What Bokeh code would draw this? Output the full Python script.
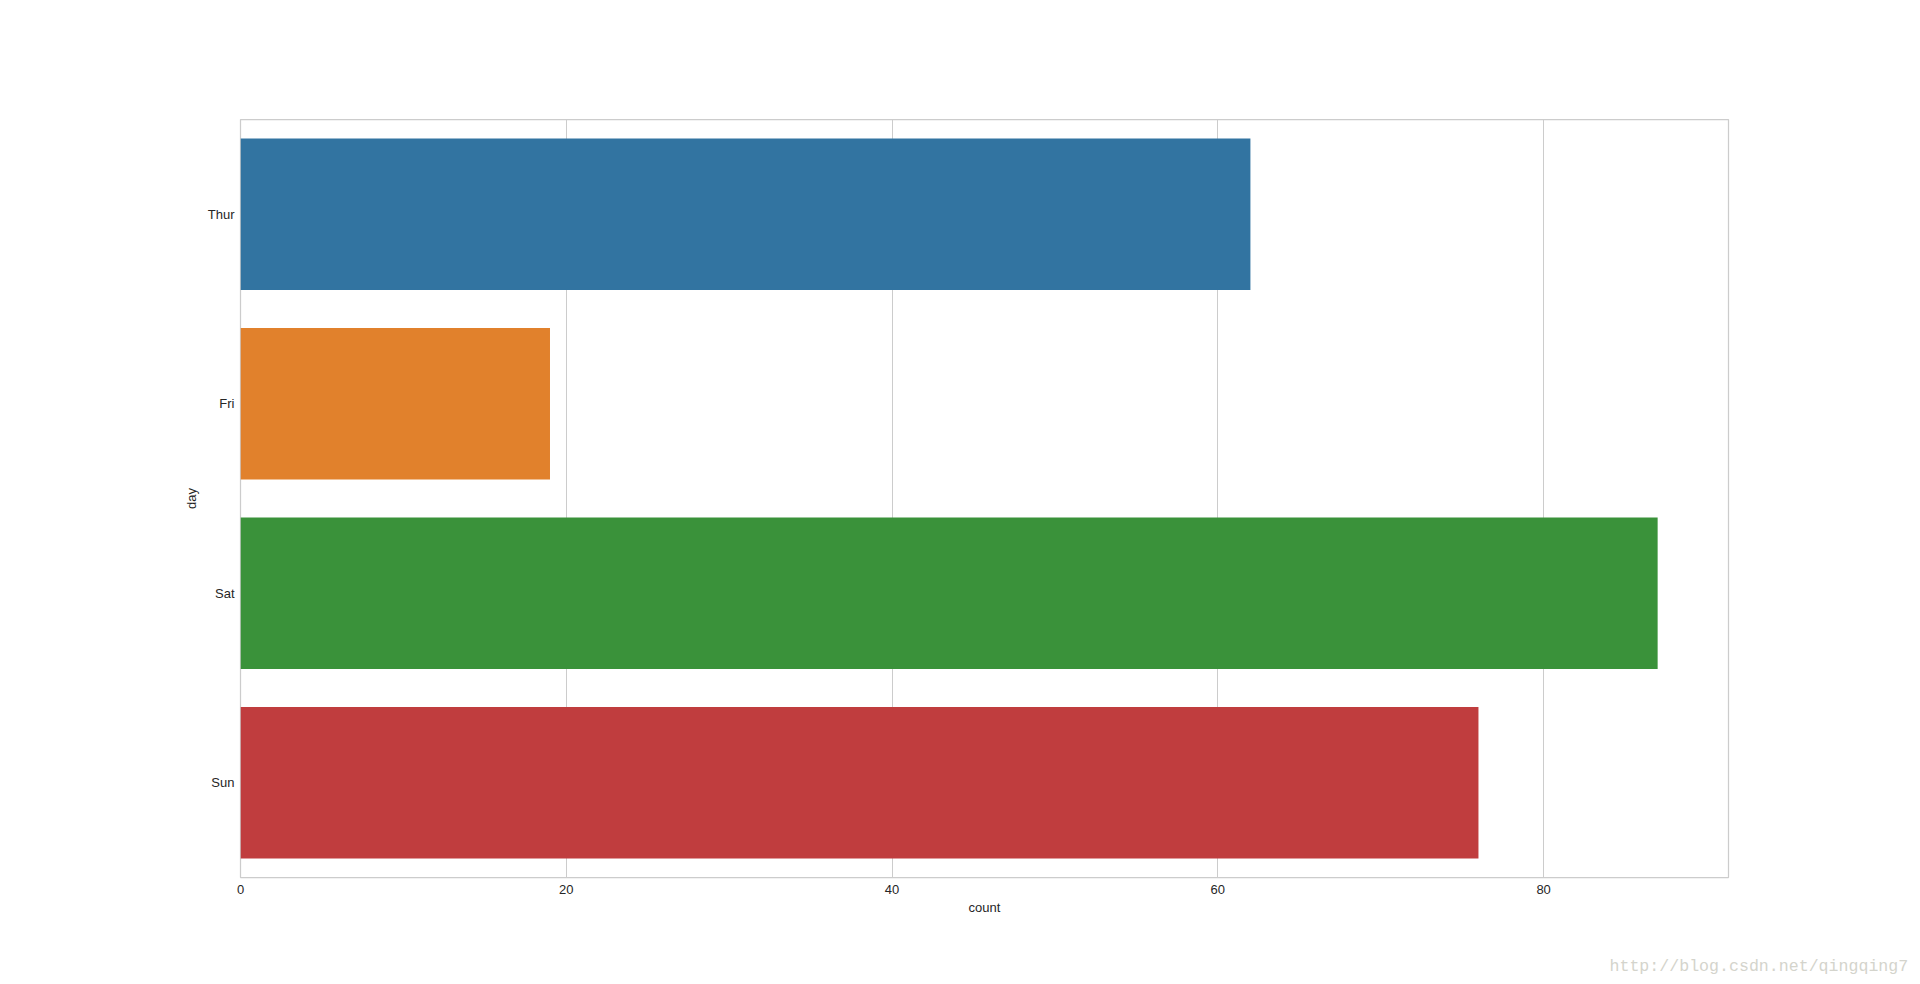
from bokeh.plotting import figure
from bokeh.models import FactorRange, Range1d, FixedTicker, Title, ColumnDataSource
from bokeh.embed import file_html
from bokeh.resources import INLINE

days = ["Thur", "Fri", "Sat", "Sun"]
counts = [62, 19, 87, 76]
colors = ["#3274a1", "#e1812c", "#3a923a", "#c03d3e"]
x_ticks = [0, 20, 40, 60, 80]
watermark = "http://blog.csdn.net/qingqing7"

src = ColumnDataSource(dict(day=days, count=counts, color=colors))

p = figure(width=1916, height=980, output_backend="svg", toolbar_location=None,
           y_range=FactorRange(factors=days[::-1], range_padding=0),
           x_range=Range1d(0, max(counts) * 1.05),
           min_border_left=240, min_border_right=188,
           min_border_top=119, min_border_bottom=103)

p.hbar(y="day", right="count", left=0, height=0.8, fill_color="color",
       line_color=None, source=src)

font = "Liberation Sans"
for ax in (p.xaxis[0], p.yaxis[0]):
    ax.axis_line_color = None
    ax.major_tick_line_color = None
    ax.minor_tick_line_color = None
    ax.major_label_text_font = font
    ax.major_label_text_font_size = "13px"
    ax.major_label_text_color = "#262626"
    ax.axis_label_text_font = font
    ax.axis_label_text_font_size = "13px"
    ax.axis_label_text_font_style = "normal"
    ax.axis_label_text_color = "#262626"

p.xaxis.ticker = FixedTicker(ticks=x_ticks)
p.xaxis.axis_label = "count"
p.yaxis.axis_label = "day"
p.xaxis.major_label_standoff = 1
p.xaxis.axis_label_standoff = 3
p.yaxis.major_label_standoff = 0
p.yaxis.axis_label_standoff = 6

p.xgrid.grid_line_color = "#cccccc"
p.xgrid.grid_line_width = 1
p.ygrid.grid_line_color = None
p.outline_line_color = "#cccccc"
p.outline_line_width = 1.25
p.background_fill_color = "white"
p.border_fill_color = "white"

# empty spacer panel between the x axis and the watermark
spacer = Title(text=" ", standoff=34, text_font_size="1px",
               text_font_style="normal", text_color="white")
p.add_layout(spacer, "below")

wm = Title(text=watermark, align="left", offset=1369, standoff=0,
           text_font="Liberation Mono", text_font_size="16.6px",
           text_font_style="normal", text_color="#d4d4cc")
p.add_layout(wm, "below")

open("out.html", "w").write(file_html(p, INLINE))
